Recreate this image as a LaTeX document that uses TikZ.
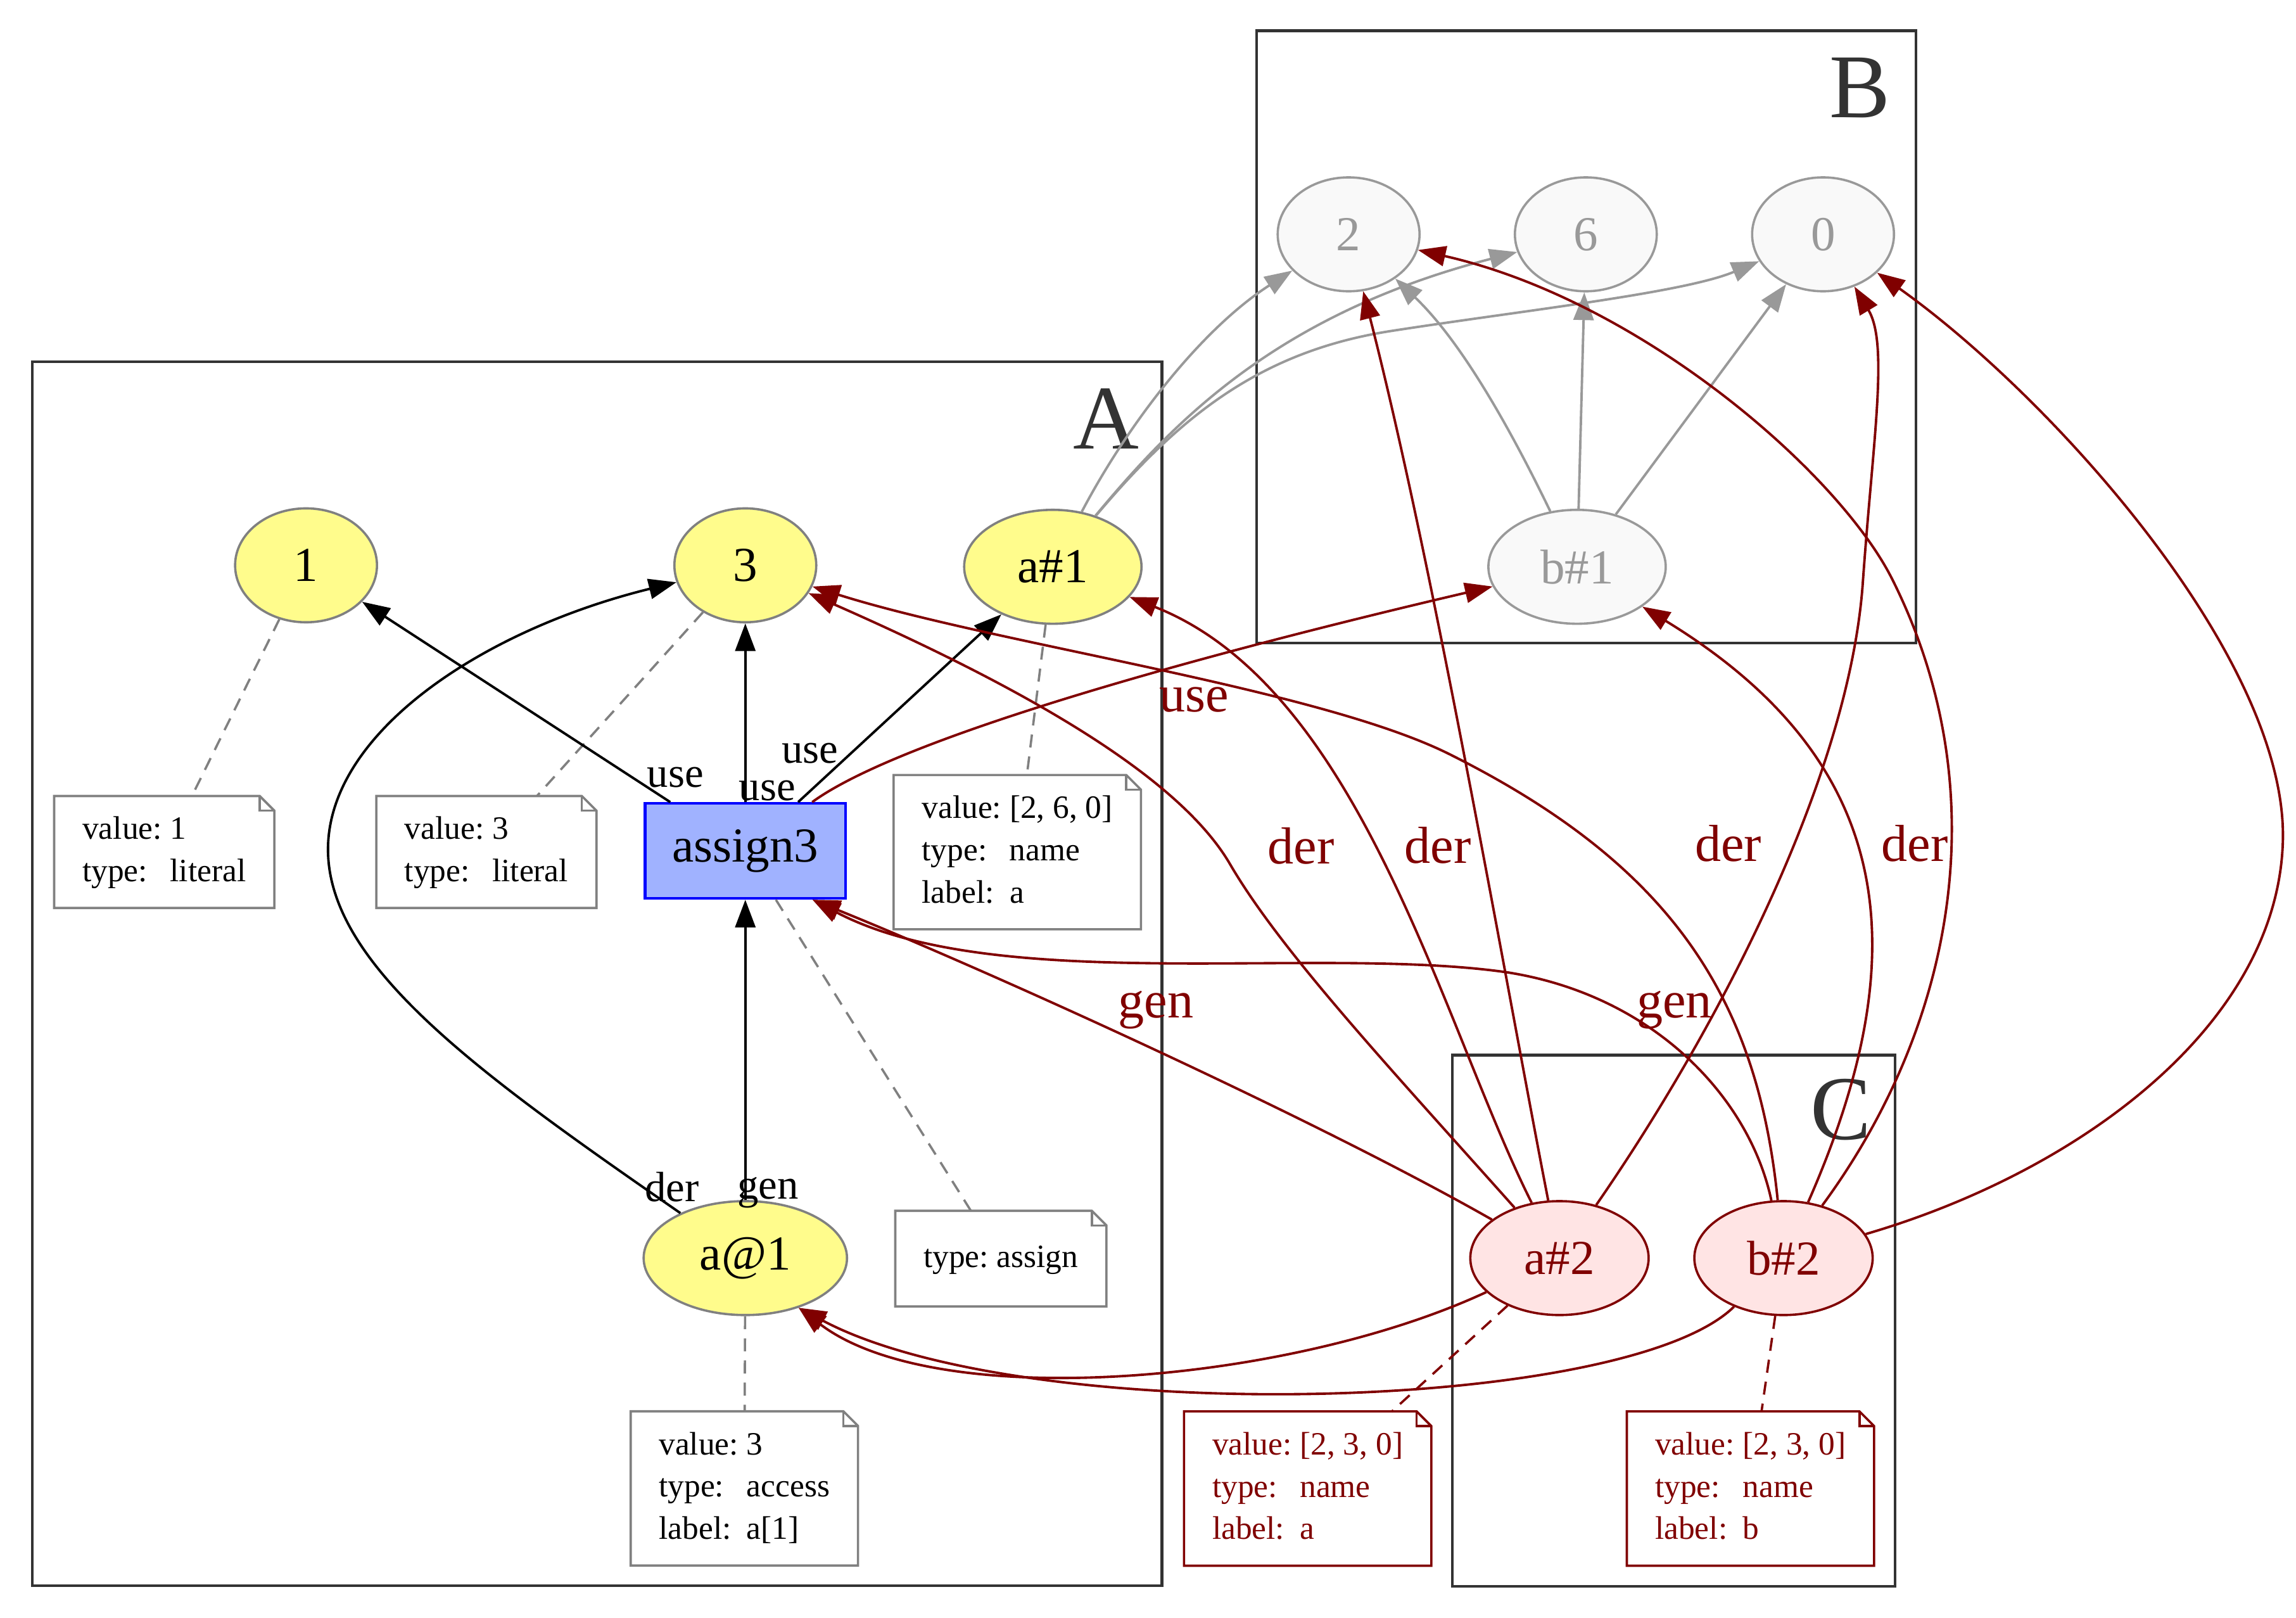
\documentclass[tikz,border=0pt]{standalone}
\usepackage{fontspec}
\setmainfont{Liberation Serif}
\usetikzlibrary{shapes.geometric,arrows.meta}

\definecolor{litfill}{RGB}{255,252,140}
\definecolor{assignfill}{RGB}{160,178,255}
\definecolor{darkred}{RGB}{128,0,0}
\definecolor{ghostgray}{RGB}{153,153,153}
\definecolor{ghostfill}{RGB}{249,249,249}
\definecolor{pinkfill}{RGB}{255,228,228}
\definecolor{clustergray}{RGB}{51,51,51}
\definecolor{notegray}{RGB}{128,128,128}

\tikzset{
  cluster/.style={draw=clustergray, line width=0.8pt},
  clusterlabel/.style={anchor=base, inner sep=0pt, text=clustergray, font=\fontsize{28}{30}\selectfont},
  basenode/.style={ellipse, inner sep=0pt, line width=0.7pt, minimum height=35pt, font=\fontsize{15}{18}\selectfont},
  litnode/.style={basenode, draw=notegray, fill=litfill, minimum width=43.6pt},
  namenode/.style={litnode, minimum width=54.5pt},
  assignbox/.style={rectangle, draw=blue, fill=assignfill, line width=0.8pt, inner sep=0pt,
    minimum width=61.6pt, minimum height=29.2pt, font=\fontsize{15}{18}\selectfont},
  ghostnode/.style={basenode, draw=ghostgray, fill=ghostfill, text=ghostgray, minimum width=43.6pt},
  rednode/.style={basenode, draw=darkred, fill=pinkfill, text=darkred, minimum width=54.8pt},
  notebox/.style={rectangle, anchor=north west, inner xsep=8.5pt, inner ysep=4pt,
    minimum height=29pt, font=\fontsize{10}{13}\selectfont,
    append after command={\pgfextra{
      \draw[#1, fill=white, line width=0.7pt]
        (\tikzlastnode.south west) -- (\tikzlastnode.north west)
        -- ([xshift=-4.5pt]\tikzlastnode.north east)
        -- ([yshift=-4.5pt]\tikzlastnode.north east)
        -- (\tikzlastnode.south east) -- cycle;
      \draw[#1, line width=0.7pt]
        ([xshift=-4.5pt]\tikzlastnode.north east) |- ([yshift=-4.5pt]\tikzlastnode.north east);}}},
  useedge/.style={->, line width=0.75pt, draw=black},
  rededge/.style={->, line width=0.75pt, draw=darkred},
  ghostedge/.style={->, line width=0.75pt, draw=ghostgray},
  notelink/.style={draw=notegray, line width=0.7pt, dash pattern=on 4pt off 2.8pt},
  rednotelink/.style={notelink, draw=darkred},
  blacklabel/.style={anchor=base, inner sep=0pt, font=\fontsize{13}{15}\selectfont},
  redlabel/.style={anchor=base, inner sep=0pt, text=darkred, font=\fontsize{16}{18}\selectfont},
}

\begin{document}
\begin{tikzpicture}[x=0.45pt, y=-0.45pt, >={Triangle[length=8.5pt, width=6.2pt]}]
    \useasboundingbox (0,0) rectangle (1568,1104.7);

    % Cluster frames
    \draw[cluster] (22,247) rectangle (793.5,1082.6);
    \draw[cluster] (858,21) rectangle (1308.4,439);
    \draw[cluster] (991.7,720.4) rectangle (1294,1083);
    \node[clusterlabel] (labA) at (755.5,306.5) {A};
    \node[clusterlabel] (labB) at (1270,80.4) {B};
    \node[clusterlabel] (labC) at (1257,778) {C};

    % Nodes in A
    \node[litnode] (n1) at (209,386) {1};
    \node[litnode] (n3) at (509,386) {3};
    \node[namenode] (a1) at (719,387) {a\#1};
    \node[assignbox] (as3) at (509,581) {assign3};
    \node[litnode, minimum width=62.5pt] (aat) at (509,859) {a@1};

    % Nodes in B
    \node[ghostnode] (n2) at (921,160) {2};
    \node[ghostnode] (n6) at (1083,160) {6};
    \node[ghostnode] (n0) at (1245,160) {0};
    \node[ghostnode, minimum width=54.5pt] (b1) at (1077,387) {b\#1};

    % Nodes in C
    \node[rednode] (a2) at (1065,859) {a\#2};
    \node[rednode] (b2) at (1218,859) {b\#2};

    % Notes
    \node[notebox=notegray] (nt1) at (37,543.5)
      {\begin{tabular}{@{}l@{\hspace{2.5pt}}l@{}}value: & 1\\ type: & literal\end{tabular}};
    \node[notebox=notegray] (nt3) at (257,543.5)
      {\begin{tabular}{@{}l@{\hspace{2.5pt}}l@{}}value: & 3\\ type: & literal\end{tabular}};
    \node[notebox=notegray] (nta1) at (610.3,529.2)
      {\begin{tabular}{@{}l@{\hspace{2.5pt}}l@{}}value: & [2, 6, 0]\\ type: & name\\ label: & a\end{tabular}};
    \node[notebox=notegray] (ntas) at (611.4,826.7)
      {\begin{tabular}{@{}l@{\hspace{2.5pt}}l@{}}type: & assign\end{tabular}};
    \node[notebox=notegray] (ntaat) at (430.7,963.6)
      {\begin{tabular}{@{}l@{\hspace{2.5pt}}l@{}}value: & 3\\ type: & access\\ label: & a[1]\end{tabular}};
    \node[notebox=darkred, text=darkred] (nta2) at (808.6,963.7)
      {\begin{tabular}{@{}l@{\hspace{2.5pt}}l@{}}value: & [2, 3, 0]\\ type: & name\\ label: & a\end{tabular}};
    \node[notebox=darkred, text=darkred] (ntb2) at (1111,963.7)
      {\begin{tabular}{@{}l@{\hspace{2.5pt}}l@{}}value: & [2, 3, 0]\\ type: & name\\ label: & b\end{tabular}};

    % Note links
    \draw[notelink] (n1) -- (nt1);
    \draw[notelink] (n3) -- (nt3);
    \draw[notelink] (a1) -- (nta1);
    \draw[notelink] (as3) -- (ntas);
    \draw[notelink] (aat) -- (ntaat);
    \draw[rednotelink] (a2) -- (nta2);
    \draw[rednotelink] (b2) -- (ntb2);

    % Edges inside A
    \draw[useedge] (as3) -- (n1);
    \draw[useedge] (as3) -- (n3);
    \draw[useedge] (as3) -- (a1);
    \draw[useedge] (aat) -- (as3);
    \draw[useedge] (aat) .. controls (330,735) and (224,660) .. (224,580)
      .. controls (224,500) and (330,430) .. (n3);
    \node[blacklabel] (use1) at (461.3,537.4) {use};
    \node[blacklabel] (use2) at (524,546.5) {use};
    \node[blacklabel] (use3) at (553.2,521.2) {use};
    \node[blacklabel] (der0) at (459,820.3) {der};
    \node[blacklabel] (gen0) at (524.6,818.8) {gen};

    % Edges into B
    \draw[ghostedge] (a1) .. controls (770,290) and (820,225) .. (n2);
    \draw[ghostedge] (a1) .. controls (800,290) and (870,215) .. (n6);
    \draw[ghostedge] (a1) .. controls (805,285) and (860,240) .. (950,226)
      .. controls (1040,212) and (1150,200) .. (n0);
    \draw[ghostedge] (b1) .. controls (1035,300) and (1000,235) .. (n2);
    \draw[ghostedge] (b1) -- (n6);
    \draw[ghostedge] (b1) -- (n0);

    % Edges out of C
    \draw[rededge] (as3) .. controls (620,500) and (850,440) .. (b1);
    \draw[rededge] (a2) .. controls (950,730) and (875,650) .. (840,590)
      .. controls (805,530) and (700,470) .. (n3);
    \draw[rededge] (a2) .. controls (985,700) and (930,470) .. (a1);
    \draw[rededge] (a2) .. controls (1030,680) and (980,390) .. (n2);
    \draw[rededge] (a2) .. controls (1175,700) and (1262,530) .. (1272,400)
      .. controls (1279,300) and (1290,235) .. (n0);
    \draw[rededge] (a2) .. controls (900,765) and (680,665) .. (as3.-36);
    \draw[rededge] (a2) .. controls (880,945) and (640,965) .. (aat.-43);
    \draw[rededge] (b2) .. controls (1200,680) and (1140,590) .. (990,515)
      .. controls (900,470) and (680,440) .. (n3);
    \draw[rededge] (b2) .. controls (1310,650) and (1295,520) .. (b1);
    \draw[rededge] (b2) .. controls (1335,700) and (1365,540) .. (1292,395)
      .. controls (1255,322) and (1120,205) .. (n2);
    \draw[rededge] (b2) .. controls (1420,800) and (1555,700) .. (1559,575)
      .. controls (1563,450) and (1400,270) .. (n0);
    \draw[rededge] (b2) .. controls (1195,750) and (1130,680) .. (1030,664)
      .. controls (900,645) and (680,680) .. (as3.-36);
    \draw[rededge] (b2) .. controls (1110,965) and (700,975) .. (aat.-43);
    \node[redlabel] (useb) at (815.5,485.9) {use};
    \node[redlabel] (dera3) at (888.6,590) {der};
    \node[redlabel] (dera1) at (982,589.4) {der};
    \node[redlabel] (derb3) at (1180.3,588) {der};
    \node[redlabel] (derb1) at (1307.7,588) {der};
    \node[redlabel] (gena) at (789.3,694.8) {gen};
    \node[redlabel] (genb) at (1143.5,694.8) {gen};
\end{tikzpicture}
\end{document}
